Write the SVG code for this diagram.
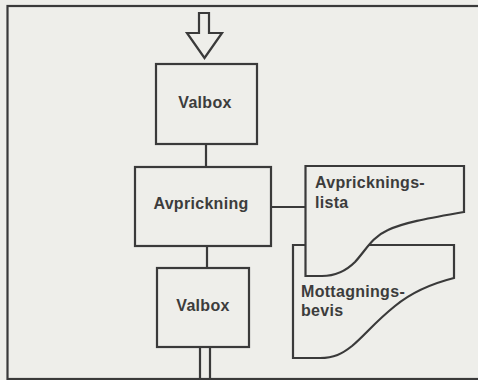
<svg xmlns="http://www.w3.org/2000/svg" width="478" height="380" viewBox="0 0 478 380">
<style>
.s{fill:none;stroke:#3a3a3a;stroke-width:2.2;stroke-linejoin:miter}
.f{fill:#eeeeea;stroke:#3a3a3a;stroke-width:2.2}
.t{font-family:"Liberation Sans",Arial,sans-serif;font-weight:bold;font-size:16px;fill:#3c3c3c;letter-spacing:0.3px}
.m{text-anchor:middle}
</style>
<rect x="0" y="0" width="478" height="380" fill="#eeeeea"/>
<rect class="s" x="7.5" y="6" width="480" height="373"/>
<g id="connectors">
<polygon class="f" points="199,13 209,13 209,33 222,33 204.5,58 187,33 199,33"/>
<line class="s" x1="206" y1="144" x2="206" y2="167"/>
<line class="s" x1="271" y1="207" x2="305" y2="207"/>
<line class="s" x1="207" y1="246" x2="207" y2="268"/>
<line class="s" x1="200" y1="347" x2="200" y2="380"/>
<line class="s" x1="210" y1="347" x2="210" y2="380"/>
</g>
<g id="valbox1">
<rect class="f" x="156" y="64" width="101" height="80"/>
<text class="t m" x="205" y="108">Valbox</text>
</g>
<g id="avprickning">
<rect class="f" x="135" y="167" width="136" height="79"/>
<text class="t m" x="201" y="209">Avprickning</text>
</g>
<g id="valbox2">
<rect class="f" x="157" y="268" width="92" height="79"/>
<text class="t m" x="203" y="311">Valbox</text>
</g>
<g id="mottagningsbevis">
<path class="f" d="M293,245 L454,245 L454,278 C430,284 412,292 395,306 C375,322 365,335 352,346 C342,354 334,358 320,358 L293,358 Z"/>
<text class="t" x="301" y="297">Mottagnings-</text>
<text class="t" x="301" y="316">bevis</text>
</g>
<g id="avprickningslista">
<path class="f" d="M305.5,166 L464,166 L464,212 C430,218 405,222 388,230 C372,237 366,250 355,262 C346,271 336,276 322,276 L305.5,276 Z"/>
<text class="t" x="315" y="188">Avpricknings-</text>
<text class="t" x="315" y="208">lista</text>
</g>
</svg>
